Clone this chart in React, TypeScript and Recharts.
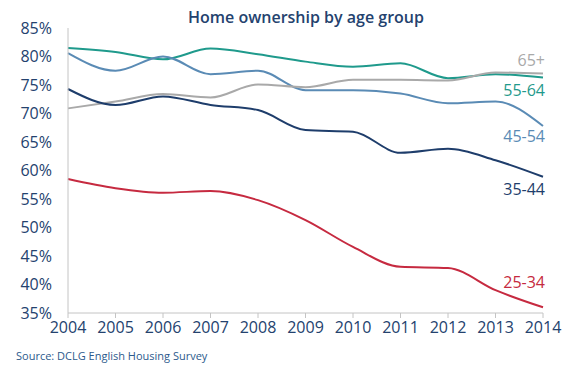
import React from "react";
import { LineChart, Line, XAxis, YAxis } from "recharts";

const years = [2004, 2005, 2006, 2007, 2008, 2009, 2010, 2011, 2012, 2013, 2014];
const age2534 = [58.5, 56.9, 56.1, 56.4, 54.8, 51.3, 46.6, 43.1, 42.9, 39.0, 36.0];
const age3544 = [74.3, 71.5, 73.0, 71.5, 70.6, 67.1, 66.8, 63.1, 63.8, 61.8, 58.9];
const age4554 = [80.6, 77.5, 80.0, 76.9, 77.5, 74.1, 74.1, 73.5, 71.8, 72.1, 67.8];
const age5564 = [81.5, 80.8, 79.5, 81.4, 80.4, 79.1, 78.2, 78.8, 76.2, 76.9, 76.3];
const age65 = [70.9, 72.1, 73.4, 72.8, 75.1, 74.6, 75.9, 75.9, 75.8, 77.2, 77.0];
const yTicks = [35, 40, 45, 50, 55, 60, 65, 70, 75, 80, 85];

const data = years.map((year, i) => ({
  year,
  a2534: age2534[i],
  a3544: age3544[i],
  a4554: age4554[i],
  a5564: age5564[i],
  a65: age65[i],
}));

const FONT = "'Open Sans', sans-serif";
const NAVY = "#24426e";

const series = [
  { key: "a5564", name: "55-64", color: "#1f9a8c", dy: 14 },
  { key: "a4554", name: "45-54", color: "#5a8bb5", dy: 12 },
  { key: "a65", name: "65+", color: "#a9a9a9", dy: -12 },
  { key: "a3544", name: "35-44", color: "#1e3d6b", dy: 14 },
  { key: "a2534", name: "25-34", color: "#c62a40", dy: -24 },
];

function endLabel(name: string, color: string, dy: number) {
  return (props: any) => {
    if (props.index !== years.length - 1) return null;
    return (
      <text
        x={props.x + 2}
        y={props.y + dy}
        textAnchor="end"
        dominantBaseline="middle"
        fill={color}
        fontSize={16}
        fontFamily={FONT}
      >
        {name}
      </text>
    );
  };
}

export default function App() {
  return (
    <div style={{ position: "absolute", left: 0, top: 0, width: 574, height: 367, background: "#fff" }}>
      <div
        style={{
          position: "absolute",
          top: 6,
          left: 0,
          width: 612,
          textAlign: "center",
          fontFamily: FONT,
          fontSize: 16,
          fontWeight: 600,
          color: NAVY,
        }}
      >
        Home ownership by age group
      </div>
      <LineChart
        width={574}
        height={367}
        data={data}
        margin={{ top: 28, right: 31, bottom: 24, left: 8 }}
      >
        <XAxis
          dataKey="year"
          type="number"
          domain={[2004, 2014]}
          ticks={years}
          height={30}
          stroke="#c4c4c4"
          tickSize={5}
          tickMargin={4}
          tick={{ fill: NAVY, fontSize: 16, fontFamily: FONT }}
        />
        <YAxis
          domain={[35, 85]}
          ticks={yTicks}
          width={60}
          stroke="#c4c4c4"
          tickLine={false}
          tickMargin={10}
          tickFormatter={(v) => `${v}%`}
          tick={{ fill: NAVY, fontSize: 16, fontFamily: FONT }}
        />
        {series.map((s) => (
          <Line
            key={s.key}
            dataKey={s.key}
            name={s.name}
            type="monotone"
            stroke={s.color}
            strokeWidth={2}
            dot={false}
            isAnimationActive={false}
            label={endLabel(s.name, s.color, s.dy)}
          />
        ))}
      </LineChart>
      <div
        style={{
          position: "absolute",
          left: 16,
          top: 348,
          fontFamily: FONT,
          fontSize: 11,
          color: "#2c5a8c",
        }}
      >
        Source: DCLG English Housing Survey
      </div>
    </div>
  );
}
